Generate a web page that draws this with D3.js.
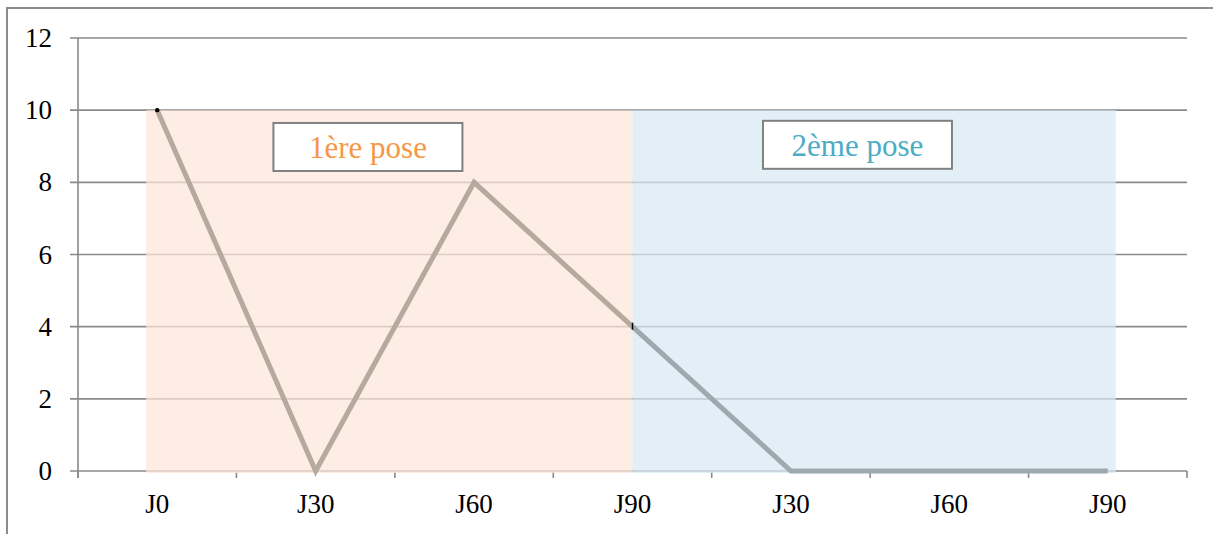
<!DOCTYPE html>
<html><head><meta charset="utf-8">
<script src="https://cdn.jsdelivr.net/npm/d3@7"></script>
<style>body{margin:0;background:#fff;} svg{display:block;}</style>
</head><body>
<script>
const categories = ["J0","J30","J60","J90","J30","J60","J90"];
const pose1 = [10, 0, 8, 4, null, null, null];
const pose2 = [null, null, null, 4, 0, 0, 0];
const yTicks = [0, 2, 4, 6, 8, 10, 12];
const regionLabels = ["1ère pose", "2ème pose"];
const regionStart = [-0.07, 3];
const regionEnd = [3, 6.05];
const regionTop = [10, 10];

const W = 1213, H = 534;
const m = {left: 78, right: 26, top: 38, bottom: 63};
const svg = d3.select("body").append("svg").attr("width", W).attr("height", H);

const idx = d3.range(categories.length);
const xb = d3.scaleBand().domain(idx).range([m.left, W - m.right]).padding(0);
const xc = i => m.left + (i + 0.5) * xb.bandwidth();
const y = d3.scaleLinear().domain([0, 12]).range([H - m.bottom, m.top]);

// outer frame
svg.append("path").attr("d", `M7,${H} L7,8 L${W},8`).attr("fill","none").attr("stroke","#8c8c8c").attr("stroke-width",2);

// gridlines
const grid = svg.append("g");
grid.selectAll("line").data(yTicks).join("line")
  .attr("x1", m.left - 8).attr("x2", W - m.right)
  .attr("y1", d => y(d)).attr("y2", d => y(d))
  .attr("stroke", "#8a8a8a").attr("stroke-width", 1.6);
// y axis line
svg.append("line").attr("x1", m.left).attr("x2", m.left).attr("y1", y(12)).attr("y2", y(0) + 7)
  .attr("stroke", "#8a8a8a").attr("stroke-width", 1.6);
// x ticks at band boundaries
const bounds = idx.map(i => xb(i)).concat([W - m.right]);
svg.append("g").selectAll("line").data(bounds).join("line")
  .attr("x1", d => d).attr("x2", d => d).attr("y1", y(0)).attr("y2", y(0) + 7)
  .attr("stroke", "#8a8a8a").attr("stroke-width", 1.6);

// regions
const regColors = ["rgb(252,230,217)", "rgb(216,233,243)"];
svg.append("g").selectAll("rect").data(regionStart).join("rect")
  .attr("x", (d, i) => xc(d))
  .attr("width", (d, i) => xc(regionEnd[i]) - xc(d))
  .attr("y", (d, i) => y(regionTop[i]))
  .attr("height", (d, i) => y(0) + 2 - y(regionTop[i]))
  .attr("fill", (d, i) => regColors[i]).attr("fill-opacity", 0.72);

const font = "Liberation Serif, DejaVu Serif, serif";
// y labels
svg.append("g").selectAll("text").data(yTicks).join("text")
  .attr("x", 52).attr("y", d => y(d) + 9)
  .attr("text-anchor", "end")
  .attr("font-family", font).attr("font-size", 27)
  .attr("fill", "#000").text(d => d);
// x labels
svg.append("g").selectAll("text").data(categories).join("text")
  .attr("x", (d, i) => xc(i)).attr("y", y(0) + 42)
  .attr("text-anchor", "middle")
  .attr("font-family", font).attr("font-size", 27)
  .attr("fill", "#000").text(d => d);

// lines
const line = d3.line().defined(d => d[1] !== null).x(d => xc(d[0])).y(d => y(d[1]));
svg.append("path").datum(pose1.map((v, i) => [i, v]))
  .attr("d", line).attr("fill", "none").attr("stroke", "#b6a99d").attr("stroke-width", 5).attr("stroke-linejoin","miter");
svg.append("path").datum(pose2.map((v, i) => [i, v]))
  .attr("d", line).attr("fill", "none").attr("stroke", "#9ca9af").attr("stroke-width", 5).attr("stroke-linejoin","miter");
// small black marks
svg.append("circle").attr("cx", xc(0)).attr("cy", y(pose1[0])).attr("r", 2.2).attr("fill", "#000");
svg.append("line").attr("x1", xc(3)).attr("x2", xc(3)).attr("y1", y(pose1[3]) - 4).attr("y2", y(pose1[3]) + 3)
  .attr("stroke", "#000").attr("stroke-width", 1.5);

// label boxes
const boxCx = [1.33, 4.42];
const boxCy = [8.98, 9.04];
const textColors = ["#f79646", "#4bacc6"];
const bw = 189, bh = 48;
const boxes = svg.append("g").selectAll("g").data(regionLabels).join("g")
  .attr("transform", (d, i) => `translate(${xc(boxCx[i])},${y(boxCy[i])})`);
boxes.append("rect").attr("x", -bw/2).attr("y", -bh/2).attr("width", bw).attr("height", bh)
  .attr("fill", "#fff").attr("stroke", "#808080").attr("stroke-width", 2);
boxes.append("text").attr("x", 0).attr("y", 11).attr("text-anchor", "middle")
  .attr("font-family", font).attr("font-size", 31)
  .attr("fill", (d, i) => textColors[i]).text(d => d);
</script>
</body></html>
